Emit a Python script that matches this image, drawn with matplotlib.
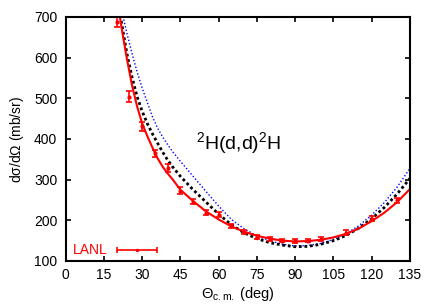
import matplotlib
matplotlib.use('Agg')
import matplotlib.pyplot as plt

plt.rcParams['font.family'] = ['Liberation Sans', 'DejaVu Sans']
plt.rcParams['mathtext.fontset'] = 'custom'
plt.rcParams['mathtext.rm'] = 'Liberation Sans'
plt.rcParams['mathtext.it'] = 'Liberation Sans'

# LANL data (theta c.m., dsigma/dOmega, error)
data_theta = [20, 25, 30, 35, 40, 45, 50, 55, 60, 65, 70, 75, 80, 85, 90, 95, 100, 110, 120, 130]
data_xs = [688, 504, 431, 365, 329, 273, 246, 219, 214, 187, 172, 159, 154, 150, 150, 150, 155, 170, 204, 249]
data_err = [12, 14, 11, 9, 10, 8, 7, 6, 6, 5, 5, 5, 5, 4, 5, 4, 5, 5, 6, 7]

# curves
curve_theta = [20, 22, 24, 26, 28, 30, 32, 34, 36, 38, 40, 42, 45, 50, 55, 60, 65, 70,
               75, 80, 85, 90, 95, 100, 105, 110, 115, 120, 125, 130, 135]
red_fit = [750, 670, 597, 532, 480, 438, 407, 379, 353, 332, 315, 300, 275, 247, 222, 202, 185, 172,
           162, 155, 150, 148, 149, 152, 158, 167, 180, 198, 219, 245, 277]
black_calc = [760, 682, 610, 552, 504, 468, 438, 413, 390, 368, 348, 331, 308, 275, 245, 215, 189, 169,
              155, 145, 139, 135, 136, 141, 150, 163, 181, 204, 232, 265, 303]
blue_calc = [790, 715, 660, 610, 565, 525, 490, 455, 427, 405, 386, 368, 345, 308, 271, 235, 202, 179,
             162, 150, 141, 137, 138, 143, 153, 167, 187, 213, 244, 282, 328]

fig = plt.figure(figsize=(4.36, 3.05), dpi=100)
ax = fig.add_axes([0.1507, 0.1443, 0.7896, 0.8])

ax.plot(curve_theta, blue_calc, color='#0000ff', lw=1.0, ls=(0, (1, 1.5)))
ax.plot(curve_theta, black_calc, color='black', lw=2.0, ls=(0, (1, 1)))
ax.plot(curve_theta, red_fit, color='#ff0000', lw=1.5)
ax.errorbar(data_theta, data_xs, yerr=data_err, fmt='o', ms=2, color='#ff0000',
            ecolor='#ff0000', elinewidth=1.2, capsize=2, capthick=1.2)

# legend entry, gnuplot style
ax.text(0.022, 0.045, 'LANL', color='#ff0000', fontsize=10, transform=ax.transAxes,
        va='center', ha='left')
ax.errorbar([0.207], [0.045], xerr=[0.057], fmt='o', ms=1.5, color='#ff0000',
            elinewidth=1.2, capsize=2, capthick=1.2, transform=ax.transAxes, clip_on=False)

ax.text(0.503, 0.46, r'$^{2}$H(d,d)$^{2}$H', fontsize=14, transform=ax.transAxes,
        ha='center', va='baseline')

ax.set_xlim(0, 135)
ax.set_ylim(100, 700)
ax.set_xticks(range(0, 136, 15))
ax.set_yticks(range(100, 701, 100))
ax.tick_params(direction='in', length=3.5, width=1.2, top=True, right=True, labelsize=10)
ax.tick_params(axis='x', pad=5)
ax.tick_params(axis='y', pad=6)
for s in ax.spines.values():
    s.set_linewidth(1.5)

ax.set_xlabel(r'$\Theta_{\rm c.m.}$ (deg)', fontsize=10.5, labelpad=2)
ax.set_ylabel(r'd$\sigma$/d$\Omega$ (mb/sr)', fontsize=10, labelpad=6)

fig.savefig('out.png', dpi=100)
